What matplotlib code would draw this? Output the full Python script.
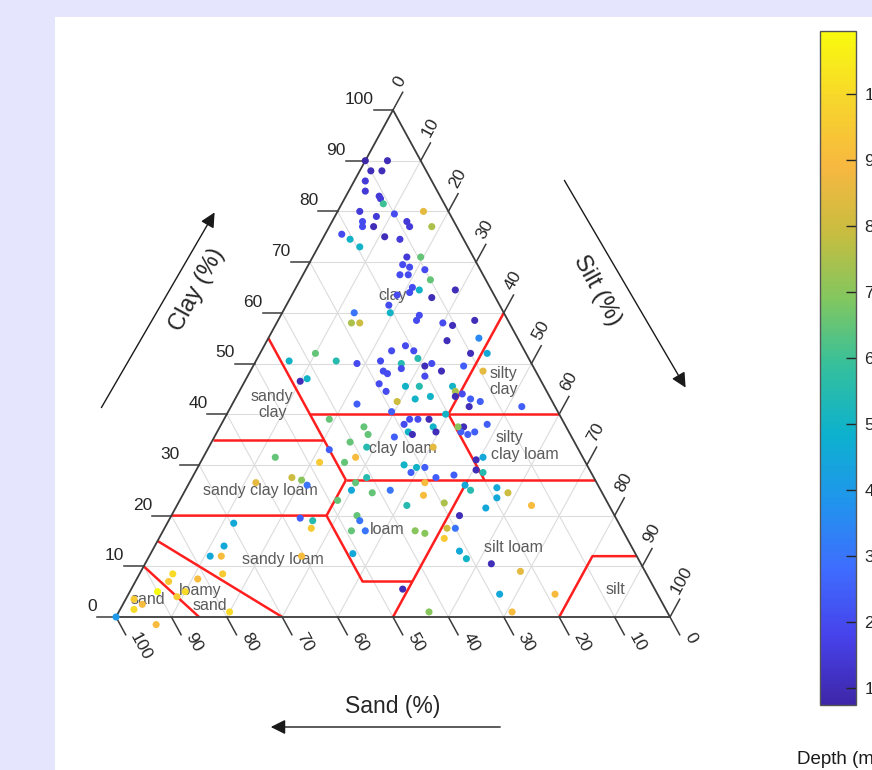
import numpy as np
import matplotlib.pyplot as plt
from matplotlib.colors import LinearSegmentedColormap
from matplotlib.patches import Rectangle, FancyArrowPatch

plt.rcParams['font.family'] = ['Liberation Sans', 'DejaVu Sans']

# soil samples: clay and silt content (%), sand is the remainder; depth of each sample
clay = [90, 90, 88, 88, 86, 84, 83, 82.5, 81.5, 80, 79, 79.5, 80, 78, 77, 77, 78, 77, 77,
        75.5, 74.5, 73, 75, 74.5, 71, 71, 69.5, 69, 68.5, 67.5, 67.5, 66.5, 65, 64.5, 64.5,
        64, 63, 63.5, 61.5, 60, 60, 58, 58, 59.5, 58.5, 58, 57.5, 58.5, 54.5, 55, 52, 50.5,
        50, 52.5, 53.5, 52.5, 51, 50.5, 50, 49, 49.5, 50, 48.5, 49.5, 52, 52, 48.5, 48.5, 48,
        47.5, 47, 46.5, 46, 45.5, 45.5, 44.5, 43, 43.5, 45.5, 44.5, 43.5, 44, 43, 42.5, 42.5,
        42, 41.5, 41.5, 40, 37.5, 36, 36.5, 36.5, 38, 31, 29, 31.5, 28, 28.5, 25, 25.5, 23.5,
        24.5, 22, 21.5, 22.5, 20, 17.5, 17.5, 15.5, 13, 11.5, 10.5, 9, 4.5, 4.5, 1, 39, 40.5,
        38, 39, 39, 39, 37.5, 36.5, 37.5, 36.5, 36, 37.5, 36, 35.5, 34.5, 33.5, 33.5, 33, 31.5,
        30.5, 30.5, 30, 29.5, 29.5, 28.5, 27.5, 27.5, 27.5, 27, 26, 25, 23, 25, 26.5, 24, 26,
        22, 31.5, 26.5, 26.5, 24.5, 19.5, 19, 17.5, 20, 19, 17, 17, 17, 16.5, 18.5, 14, 12, 12,
        8.5, 12, 12.5, 5.5, 1, 8.5, 7, 7.5, 5, 5, 4, 3.5, 2.5, 1.5, -1.5, 0, 1, 50.5]
silt = [0, 4, 2, 4, 2, 3, 6, 6.5, 7.5, 4, 7.5, 10.5, 15.5, 5.5, 6, 8, 13.5, 14.5, 18.5,
        3, 5, 7.5, 11, 14, 17, 19.5, 17, 18.5, 21.5, 17.5, 19, 23.5, 21, 22.5, 29,
        21, 25.5, 19, 18.5, 19.5, 13, 13.5, 15, 25, 25, 30, 32, 35.5, 32.5, 38, 10, 14.5,
        18.5, 23.5, 25.5, 27.5, 29, 22.5, 26.5, 27, 31, 32, 34.5, 38, 38, 41, 42, 24, 25,
        32, 11, 10, 24.5, 29.5, 32, 26.5, 32.5, 35, 38, 39, 39.5, 40.5, 42.5, 44.5, 29.5,
        22.5, 43, 52.5, 39.5, 44, 45.5, 46.5, 44, 48, 49.5, 50.5, 50.5, 47, 52, 51.5, 56, 57,
        58.5, 64, 56, 48, 52, 52.5, 51, 51.5, 55.5, 57.5, 62.5, 68.5, 67, 77, 71, 19, 29.5,
        33, 33.5, 35, 37, 38.5, 39.5, 43, 34.5, 35.5, 26, 27.5, 32.5, 25, 28.5, 40.5, 22, 27.5,
        21.5, 26, 37, 39.5, 41, 39, 44, 31.5, 18, 20, 21.5, 30, 28.5, 37, 42.5, 43.5, 50,
        41.5, 13, 12, 30, 34, 23.5, 26, 26.5, 33.5, 34.5, 34, 36.5, 45.5, 47.5, 12, 12.5, 11, 13,
        15, 27.5, 36.5, 49, 56, 6, 6, 11, 5, 10, 9, 1.5, 3.5, 2.5, 8, 0, 20, 6]
depth = [0.75, 1, 1, 1, 1.5, 1.5, 1.5, 1.5, 6, 1.5, 1.5, 2, 8.5, 2, 2, 1, 1.5, 1.5, 7.5,
         2, 5, 5, 1, 1.5, 1.5, 6.5, 2, 2, 2, 2, 2, 6.5, 2, 5, 1,
         2, 1, 2, 2, 5, 3, 7.5, 8, 2, 2, 2, 1, 1, 1, 3.5, 6.5, 5.5,
         2, 2, 2, 2, 5.5, 2, 5.5, 2, 1, 2, 1, 2.5, 1, 4.5, 8.5, 2, 2,
         2, 5, 1, 2, 5, 5.5, 2, 5, 5, 5, 7.5, 1, 2, 2.5, 2.5, 8,
         2.5, 1, 2.5, 5, 1, 2.5, 2.5, 2.5, 2.5, 1, 1, 4.5, 2.5, 5.5, 5.5, 4.5, 4.5,
         8, 9, 4.5, 7.5, 1, 3, 8, 9.5, 4.5, 5, 1, 8.5, 4.5, 9, 9, 6.5, 2.5,
         2, 2, 2, 1, 5, 1, 7, 5, 1, 6.5, 6.5, 2.5, 6.5, 5.5, 8.5, 2.5, 9,
         9.5, 6.5, 5, 5, 2.5, 2.5, 2.5, 5.5, 8, 7, 3, 4.5, 6.5, 3, 9, 9, 4.5,
         5.5, 6.5, 8.5, 6.5, 6.5, 2.5, 5.5, 9.5, 6.5, 3, 6.5, 3, 7, 7, 4.5, 4.5, 4.5, 9,
         9.5, 9, 4.5, 1, 7, 10, 9.5, 9, 10.95, 10, 9.5, 9.5, 9, 10, 9, 4, 10, 5]

# USDA texture class boundaries as (sand, silt, clay) polylines
boundaries = [
    [(0, 40, 60), (20, 40, 40), (20, 53, 27)],
    [(45, 15, 40), (0, 60, 40)],
    [(45, 0, 55), (45, 28, 27)],
    [(65, 0, 35), (45, 20, 35)],
    [(45, 28, 27), (0, 73, 27)],
    [(45, 28, 27), (52, 28, 20)],
    [(80, 0, 20), (52, 28, 20), (52, 41, 7), (43, 50, 7)],
    [(50, 50, 0), (23, 50, 27)],
    [(20, 80, 0), (8, 80, 12), (0, 88, 12)],
    [(85, 0, 15), (70, 30, 0)],
    [(90, 0, 10), (85, 15, 0)],
]

class_names = ['clay', 'sandy\nclay', 'silty\nclay', 'clay loam', 'silty', 'clay loam',
               'sandy clay loam', 'loam', 'silt loam', 'sandy loam', 'loamy', 'sand',
               'sand', 'silt']
class_xy = [(50.0, 63.5), (28.2, 41.9), (70.0, 46.5), (51.8, 33.3), (71.1, 35.5),
            (73.8, 32.1), (26.1, 25.0), (48.9, 17.2), (71.8, 13.8), (30.1, 11.4),
            (15.2, 5.3), (17.0, 2.2), (5.8, 3.4), (90.1, 5.5)]

ticks = list(range(0, 101, 10))

parula = LinearSegmentedColormap.from_list('parula', [
    (0.2422, 0.1504, 0.6603), (0.2780, 0.2586, 0.9200), (0.2450, 0.4250, 0.9950),
    (0.1300, 0.5800, 0.9300), (0.0500, 0.6950, 0.8100), (0.2000, 0.7500, 0.6200),
    (0.5000, 0.7800, 0.3800), (0.7800, 0.7400, 0.2500), (0.9700, 0.7200, 0.2500),
    (0.9700, 0.8400, 0.1700), (0.9763, 0.9831, 0.0538)])


def tern(c, s):
    c = np.asarray(c, dtype=float)
    s = np.asarray(s, dtype=float)
    return s + c / 2, c


W, H = 872, 770
fig = plt.figure(figsize=(W / 100, H / 100), dpi=100, facecolor='#e5e5fd')
fig.add_artist(Rectangle((55 / W, 0), 1, 1 - 17 / H, transform=fig.transFigure,
                         facecolor='white', edgecolor='none', zorder=-5))

ax = fig.add_axes([116 / W, (H - 617) / H, 554 / W, 507 / H])
ax.set_xlim(0, 100)
ax.set_ylim(0, 100)
ax.axis('off')

grid_kw = dict(color='#dcdcdc', lw=0.8, zorder=1)
for k in range(10, 100, 10):
    ax.plot([k / 2, 100 - k / 2], [k, k], **grid_kw)
    ax.plot([100 - k, (100 - k) / 2], [0, 100 - k], **grid_kw)
    ax.plot([k, k + (100 - k) / 2], [0, 100 - k], **grid_kw)

for line in boundaries:
    sa, si, cl = zip(*line)
    x, y = tern(cl, si)
    ax.plot(x, y, color='#ff1f1f', lw=1.8, zorder=2, solid_capstyle='butt')

edge = '#3c3c3c'
ax.plot([0, 100, 50, 0], [0, 0, 100, 0], color=edge, lw=1.3, zorder=3, clip_on=False)

# ticks extend the grid lines past each edge
t = 3.5
gap = 0.6
txt_kw = dict(fontsize=12.5, color='#262626')
ang = np.degrees(np.arctan2(507 / 100, 554 / 200))
for k in ticks:
    # clay, left edge
    x0, y0 = k / 2, k
    ax.plot([x0, x0 - t], [y0, y0], color=edge, lw=1.1, clip_on=False)
    ax.text(x0 - t, y0 + 0.6, str(k), ha='right', va='bottom', **txt_kw)
    # sand, bottom edge
    x0, y0 = 100 - k, 0
    ax.plot([x0, x0 + t / 2], [y0, y0 - t], color=edge, lw=1.1, clip_on=False)
    ax.text(x0 + t / 2 + gap / 2, y0 - t - gap, str(k), rotation=-ang,
            rotation_mode='anchor', ha='left', va='bottom', **txt_kw)
    # silt, right edge
    x0, y0 = k + (100 - k) / 2, 100 - k
    ax.plot([x0, x0 + t / 2], [y0, y0 + t], color=edge, lw=1.1, clip_on=False)
    ax.text(x0 + t / 2 + gap / 2, y0 + t + gap, str(k), rotation=ang,
            rotation_mode='anchor', ha='left', va='bottom', **txt_kw)

for name, (x, y) in zip(class_names, class_xy):
    ax.text(x, y, name, ha='center', va='center', fontsize=11.5, color='#5a5a5a',
            linespacing=1.05, zorder=4)

px, py = tern(clay, silt)
sc = ax.scatter(px, py, c=depth, cmap=parula, s=26, linewidths=0, zorder=5, clip_on=False)


def fx(p):
    return p / W


def fy(p):
    return 1 - p / H


# direction arrows and axis titles
arrows = [((100, 410), (216, 210)), ((563, 178), (687, 390)), ((503, 727), (268, 727))]
for (x1, y1), (x2, y2) in arrows:
    fig.add_artist(FancyArrowPatch((fx(x1), fy(y1)), (fx(x2), fy(y2)),
                                   transform=fig.transFigure, arrowstyle='-|>',
                                   mutation_scale=22, lw=1.0, color='#1a1a1a'))
fig.text(fx(197), fy(290), 'Clay (%)', rotation=ang, ha='center', va='center',
         fontsize=17, color='#262626')
fig.text(fx(597), fy(290), 'Silt (%)', rotation=-ang, ha='center', va='center',
         fontsize=17, color='#262626')
fig.text(fx(393), fy(706), 'Sand (%)', ha='center', va='center', fontsize=16.5,
         color='#262626')

cax = fig.add_axes([820 / W, (H - 705) / H, 36 / W, 674 / H])
cb = fig.colorbar(sc, cax=cax)
cb.set_ticks(range(1, 11))
cb.outline.set_edgecolor('#555555')
cb.outline.set_linewidth(1.0)
cax.tick_params(direction='in', length=7, width=1, colors='#262626', labelsize=12.5,
                pad=6)
fig.text(fx(797), fy(760), 'Depth (m)', ha='left', va='center', fontsize=13.5,
         color='#1a1a1a')

fig.savefig('out.png', dpi=100, facecolor=fig.get_facecolor())
